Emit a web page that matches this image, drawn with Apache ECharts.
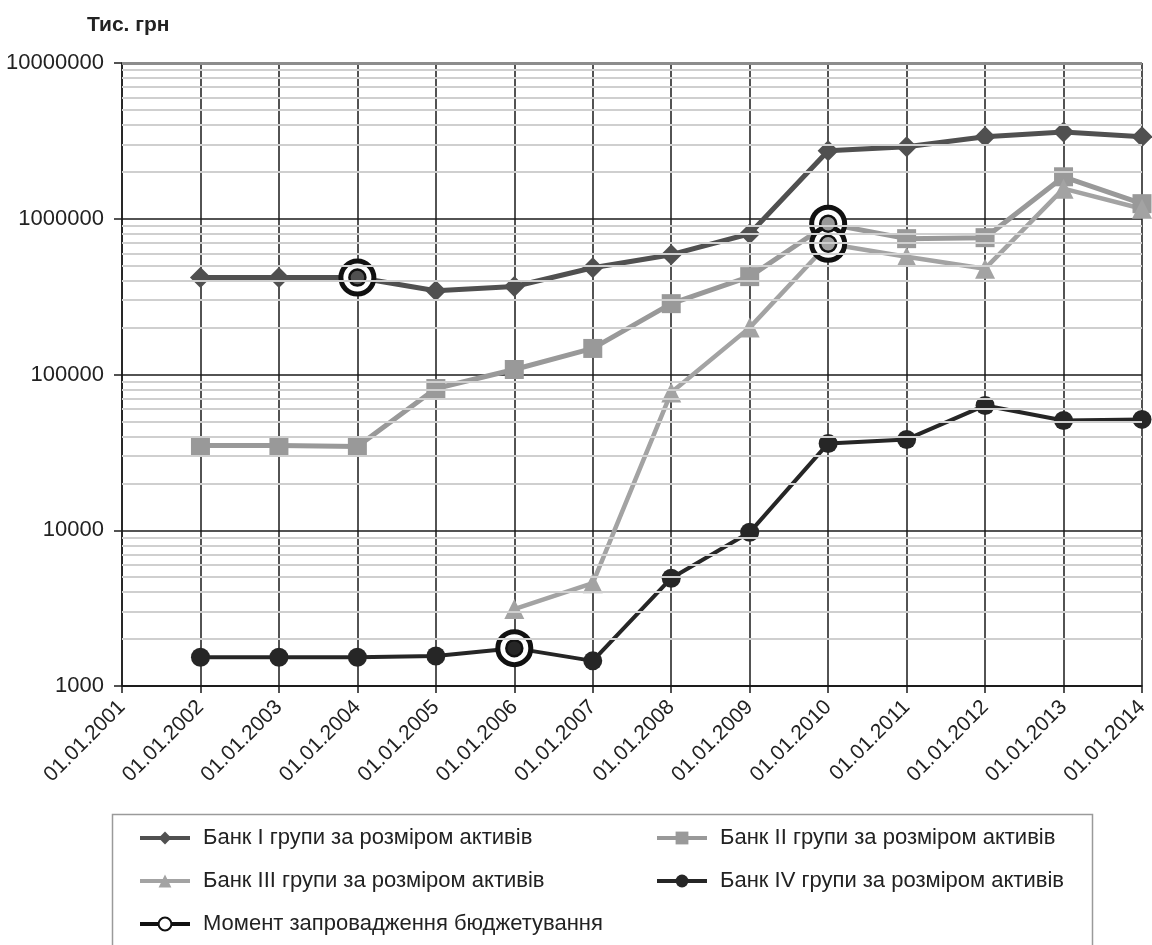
<!DOCTYPE html>
<html>
<head>
<meta charset="utf-8">
<script src="https://cdn.jsdelivr.net/npm/echarts@6/dist/echarts.min.js"></script>
<style>
html,body{margin:0;padding:0;background:#fff;}
#chart{width:1152px;height:945px;}
</style>
</head>
<body>
<div id="chart"></div>
<script>
// ---- data ----
const categories = ['01.01.2001','01.01.2002','01.01.2003','01.01.2004','01.01.2005','01.01.2006','01.01.2007','01.01.2008','01.01.2009','01.01.2010','01.01.2011','01.01.2012','01.01.2013','01.01.2014'];
const yTickValues = [1000, 10000, 100000, 1000000, 10000000];
const bankI   = [null, 419000, 419000, 419000, 345000, 367000, 485000, 588000, 801000, 2730000, 2900000, 3360000, 3610000, 3360000];
const bankII  = [null, 35000, 35000, 34500, 81300, 107700, 147000, 285000, 425000, 929000, 745000, 756000, 1860000, 1250000];
const bankIII = [null, null, null, null, null, 3120, 4570, 76700, 200000, 691000, 570000, 478000, 1560000, 1160000];
const bankIV  = [null, 1530, 1530, 1530, 1560, 1750, 1450, 4920, 9700, 36100, 38300, 63300, 50700, 51500];
// moments of budgeting introduction: [date, group]
const budgetMoments = [['01.01.2004','I'], ['01.01.2006','IV'], ['01.01.2010','II'], ['01.01.2010','III']];

const names = {
  I: 'Банк I групи за розміром активів',
  II: 'Банк II групи за розміром активів',
  III: 'Банк III групи за розміром активів',
  IV: 'Банк IV групи за розміром активів'
};
const momentName = 'Момент запровадження бюджетування';
const seriesData = { I: bankI, II: bankII, III: bankIII, IV: bankIV };

// ---- styles ----
const FONT = 'Liberation Sans, Arial, sans-serif';
const styles = {
  I:   { color: '#505050', symbol: 'diamond',  size: 21, width: 5 },
  II:  { color: '#999999', symbol: 'rect',     size: 19, width: 5 },
  III: { color: '#a3a3a3', symbol: 'triangle', size: 20, width: 4.5 },
  IV:  { color: '#262626', symbol: 'circle',   size: 19, width: 4 }
};

const minorVals = [];
for (let d = 3; d < 7; d++) for (let k = 2; k <= 9; k++) minorVals.push(k * Math.pow(10, d));

const series = [];
// helper series: minor log grid lines + top border
series.push({
  type: 'line', name: '_grid', data: categories.map(() => null), z: 1, silent: true,
  symbol: 'none', legendHoverLink: false,
  markLine: {
    silent: true, symbol: ['none','none'], animation: false,
    label: { show: false },
    data: minorVals.map(v => ({ yAxis: v, lineStyle: { color: '#cfcfcf', width: 1.8, type: 'solid' } }))
      .concat([{ yAxis: 10000000, lineStyle: { color: '#8c8c8c', width: 3, type: 'solid' } }])
  }
});

['I','II','III','IV'].forEach(k => {
  const s = styles[k];
  series.push({
    type: 'line', name: names[k], data: seriesData[k], z: 2,
    symbol: s.symbol, symbolSize: s.size, showSymbol: true, showAllSymbol: true,
    connectNulls: false,
    lineStyle: { color: s.color, width: s.width },
    itemStyle: { color: s.color }
  });
});

budgetMoments.forEach((m, i) => {
  const idx = categories.indexOf(m[0]);
  const val = seriesData[m[1]][idx];
  const pt = categories.map((c, j) => j === idx ? val : null);
  series.push({
    type: 'line', name: momentName, data: pt, z: 3 + i * 0.01,
    symbol: 'circle', symbolSize: 33, showSymbol: true,
    lineStyle: { color: '#111', width: 4 },
    itemStyle: { color: '#ffffff', borderColor: '#111', borderWidth: 5 }
  });
  series.push({
    type: 'line', name: momentName, data: pt, z: 4,
    symbol: 'circle', symbolSize: 16, showSymbol: true,
    lineStyle: { color: '#111', width: 4 },
    itemStyle: { color: styles[m[1]].color, borderColor: '#111', borderWidth: 2.5 }
  });
});

const legendCommon = {
  orient: 'vertical', itemWidth: 50, itemHeight: 16, itemGap: 21,
  textStyle: { fontFamily: FONT, fontSize: 22, color: '#222', padding: [0, 0, 0, 8] },
  selectedMode: false
};
function legItem(k) {
  return { name: names[k], lineStyle: { width: 4, color: styles[k].color } };
}

const option = {
  animation: false,
  backgroundColor: '#fff',
  textStyle: { fontFamily: FONT },
  title: {
    text: 'Тис. грн', left: 82, top: 10,
    textStyle: { fontFamily: FONT, fontSize: 21, fontWeight: 'bold', color: '#222' }
  },
  grid: { left: 122, right: 10, top: 63, bottom: 259, containLabel: false },
  legend: [
    Object.assign({}, legendCommon, {
      left: 133, top: 822,
      data: [
        legItem('I'),
        legItem('III'),
        { name: momentName, itemStyle: { borderWidth: 2, color: '#fff', borderColor: '#111' }, lineStyle: { width: 4, color: '#111' } }
      ]
    }),
    Object.assign({}, legendCommon, {
      left: 650, top: 822,
      data: [legItem('II'), legItem('IV')]
    })
  ],
  xAxis: {
    type: 'category', data: categories, boundaryGap: false,
    axisLine: { show: true, onZero: false, lineStyle: { color: '#1a1a1a', width: 1.5 } },
    axisTick: { show: true, length: 7, interval: 0, lineStyle: { color: '#1a1a1a', width: 1.5 } },
    axisLabel: { interval: 0, rotate: 45, fontSize: 21, color: '#222', margin: 18, fontFamily: FONT },
    splitLine: { show: true, interval: 0, lineStyle: { color: '#1a1a1a', width: 1.5 } }
  },
  yAxis: {
    type: 'log', logBase: 10, min: yTickValues[0], max: yTickValues[yTickValues.length - 1],
    axisLine: { show: true, lineStyle: { color: '#1a1a1a', width: 1.5 } },
    axisTick: { show: true, length: 8, lineStyle: { color: '#1a1a1a', width: 1.5 } },
    axisLabel: {
      fontSize: 22, color: '#222', margin: 18, fontFamily: FONT,
      formatter: v => String(Math.round(v))
    },
    splitLine: { show: true, lineStyle: { color: '#1a1a1a', width: 1.5 } }
  },
  graphic: [{
    type: 'rect', left: 110, top: 812, z: -1, silent: true,
    shape: { width: 980, height: 160 },
    style: { fill: 'none', stroke: '#9a9a9a', lineWidth: 1.5 }
  }],
  series: series
};

const chart = echarts.init(document.getElementById('chart'), null, { renderer: 'canvas' });
chart.setOption(option);
</script>
</body>
</html>
